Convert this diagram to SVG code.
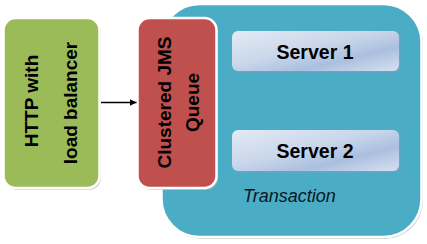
<svg xmlns="http://www.w3.org/2000/svg" width="427" height="244" viewBox="0 0 427 244">
<defs>
<style>
.box{stroke:#ffffff;stroke-width:2.5}
.shadow{fill:#b8b8b8;opacity:0.6}
.lbl{font-family:"Liberation Sans",Arial,sans-serif;font-weight:bold;font-size:19px;fill:#000000;text-anchor:middle}
.srv{font-family:"Liberation Sans",Arial,sans-serif;font-weight:bold;font-size:19.5px;fill:#000000;text-anchor:middle}
.it{font-family:"Liberation Sans",Arial,sans-serif;font-style:italic;font-size:18px;fill:#0a1620}
</style>
<linearGradient id="srvGrad" x1="0" y1="0" x2="1" y2="1">
<stop offset="0" stop-color="#e3eaf5"/>
<stop offset="0.45" stop-color="#c9d6ea"/>
<stop offset="0.7" stop-color="#aabfdf"/>
<stop offset="1" stop-color="#d7e1f0"/>
</linearGradient>
<marker id="arr" viewBox="0 0 10 10" refX="10" refY="5" markerWidth="7" markerHeight="7" markerUnits="userSpaceOnUse" orient="auto">
<path d="M0,0 L10,5 L0,10 z" fill="#000000"/>
</marker>
</defs>
<rect width="427" height="244" fill="#ffffff"/>
<g id="transaction">
<rect class="shadow" x="163" y="6" width="260" height="233" rx="38"/>
<rect class="box" x="161.5" y="4" width="260" height="233" rx="38" fill="#4bacc6"/>
<text class="it" x="243" y="202">Transaction</text>
</g>
<g id="http">
<rect class="shadow" x="5" y="20" width="96" height="170" rx="12"/>
<rect class="box" x="3.5" y="18" width="96" height="170" rx="12" fill="#9bbb59"/>
<text class="lbl" transform="translate(38,101) rotate(-90)">HTTP with</text>
<text class="lbl" transform="translate(77,103) rotate(-90)">load balancer</text>
</g>
<g id="jms">
<rect class="shadow" x="139" y="20" width="79" height="170" rx="12"/>
<rect class="box" x="137.5" y="18" width="79" height="170" rx="12" fill="#c0504d"/>
<text class="lbl" transform="translate(171,102.5) rotate(-90)">Clustered JMS</text>
<text class="lbl" transform="translate(199,102.5) rotate(-90)">Queue</text>
</g>
<g id="server1">
<rect x="233.5" y="32.5" width="167" height="40" rx="6" fill="#7f9fc4" opacity="0.7"/>
<rect x="232" y="31" width="167" height="40" rx="6" fill="url(#srvGrad)"/>
<text class="srv" x="315" y="58.5">Server 1</text>
</g>
<g id="server2">
<rect x="233.5" y="131.5" width="167" height="41" rx="6" fill="#7f9fc4" opacity="0.7"/>
<rect x="232" y="130" width="167" height="41" rx="6" fill="url(#srvGrad)"/>
<text class="srv" x="315" y="158">Server 2</text>
</g>
<g id="connectors">
<line x1="101" y1="102.5" x2="136.5" y2="102.5" stroke="#000000" stroke-width="1.3" marker-end="url(#arr)"/>
</g>
</svg>
